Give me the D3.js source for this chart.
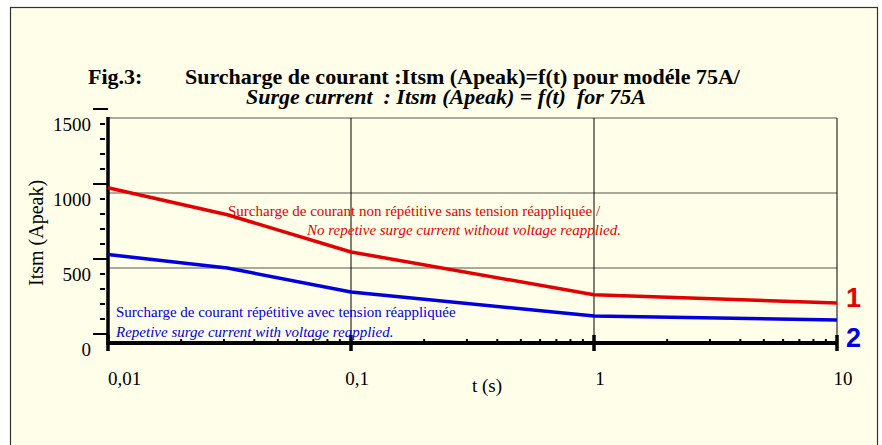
<!DOCTYPE html>
<html>
<head>
<meta charset="utf-8">
<script src="https://cdn.jsdelivr.net/npm/d3@7"></script>
<style>
  body { margin: 0; background: #fff; }
  svg { display: block; }
  text { font-family: "Liberation Serif", "Times New Roman", serif; }
</style>
</head>
<body>
<div id="content"></div>
<script>
// values
let times = [0.01, 0.031, 0.1, 1, 10];
let nonRepetitive = [1035, 855, 607, 322, 267];
let repetitive = [590, 500, 340, 180, 153];
let yTicks = [0, 500, 1000, 1500];
let xTicks = [0.01, 0.1, 1, 10];
let xTickLabels = ["0,01", "0,1", "1", "10"];

let width = 882;
let height = 445;
let svg = d3.select("#content").append("svg")
  .attr("width", width)
  .attr("height", height);

// cream panel
svg.append("rect")
  .attr("x", 10.5).attr("y", 7.5)
  .attr("width", 867).attr("height", 445)
  .style("fill", "#fffee8")
  .style("stroke", "#333")
  .style("stroke-width", 1.2);

let x = d3.scaleLog().domain([0.01, 10]).range([108, 837]);
let y = d3.scaleLinear().domain([0, 1500]).range([343, 118]);

// grid
svg.selectAll(".hgrid").data([500, 1000, 1500]).enter().append("line")
  .attr("x1", x(0.01)).attr("x2", x(10))
  .attr("y1", d => y(d)).attr("y2", d => y(d))
  .style("stroke", "#555").style("stroke-width", 1);
svg.selectAll(".vgrid").data([0.1, 1, 10]).enter().append("line")
  .attr("x1", d => x(d)).attr("x2", d => x(d))
  .attr("y1", y(1500)).attr("y2", y(0))
  .style("stroke", "#000").style("stroke-width", 1);

// y axis (ticks come out about 9px above the grid in the original)
let yMinor = d3.range(100, 1500, 100).filter(v => v % 500 != 0);
let yAxis = svg.append("g");
yAxis.selectAll(".major").data(yTicks).enter().append("line")
  .attr("x1", 93).attr("x2", 108)
  .attr("y1", d => y(d) - 9).attr("y2", d => y(d) - 9)
  .style("stroke", "#000").style("stroke-width", 2);
yAxis.selectAll(".minor").data(yMinor).enter().append("line")
  .attr("x1", 100).attr("x2", 105)
  .attr("y1", d => y(d) - 9).attr("y2", d => y(d) - 9)
  .style("stroke", "#000").style("stroke-width", 2);
yAxis.append("line")
  .attr("x1", 108).attr("x2", 108)
  .attr("y1", y(1500) - 1).attr("y2", y(0) + 2)
  .style("stroke", "#000").style("stroke-width", 3.5);
yAxis.selectAll(".lab").data(yTicks).enter().append("text")
  .attr("x", 91).attr("y", d => y(d) + 13)
  .attr("text-anchor", "end")
  .style("font-size", "19px")
  .text(d => d);

// x axis
let xMinor = [];
[0.01, 0.1, 1].forEach(function(dec) {
  for (let k = 2; k <= 9; k++) xMinor.push(dec * k);
});
let xAxis = svg.append("g");
xAxis.append("line")
  .attr("x1", x(0.01)).attr("x2", x(10))
  .attr("y1", y(0)).attr("y2", y(0))
  .style("stroke", "#000").style("stroke-width", 4);
xAxis.selectAll(".major").data(xTicks).enter().append("line")
  .attr("x1", d => x(d)).attr("x2", d => x(d))
  .attr("y1", y(0) - 8).attr("y2", y(0) + 8)
  .style("stroke", "#000").style("stroke-width", 3.5);
xAxis.selectAll(".minor").data(xMinor).enter().append("line")
  .attr("x1", d => x(d)).attr("x2", d => x(d))
  .attr("y1", y(0) - 4).attr("y2", y(0))
  .style("stroke", "#000").style("stroke-width", 2);
xAxis.selectAll(".lab").data(xTicks).enter().append("text")
  .attr("x", (d, i) => i == 0 ? x(d) : x(d) + 6).attr("y", 385)
  .attr("text-anchor", (d, i) => i == 0 ? "start" : "middle")
  .style("font-size", "19px")
  .text((d, i) => xTickLabels[i]);

svg.append("text")
  .attr("x", 487).attr("y", 392)
  .attr("text-anchor", "middle")
  .style("font-size", "19px")
  .text("t (s)");

svg.append("text")
  .attr("transform", "translate(43,233) rotate(-90)")
  .attr("text-anchor", "middle")
  .style("font-size", "20px")
  .text("Itsm (Apeak)");

// curves
let line = d3.line().x(d => x(d[0])).y(d => y(d[1]));
svg.append("path")
  .attr("d", line(d3.zip(times, nonRepetitive)))
  .style("fill", "none").style("stroke", "#e30000")
  .style("stroke-width", 3.5).style("stroke-linejoin", "round");
svg.append("path")
  .attr("d", line(d3.zip(times, repetitive)))
  .style("fill", "none").style("stroke", "#0000dd")
  .style("stroke-width", 3.5).style("stroke-linejoin", "round");

// curve numbers
svg.append("text")
  .attr("x", 846).attr("y", 307)
  .style("font-family", "Liberation Sans, Arial, sans-serif")
  .style("font-weight", "bold").style("font-size", "27px")
  .style("fill", "#e30000")
  .text("1");
svg.append("text")
  .attr("x", 846).attr("y", 347)
  .style("font-family", "Liberation Sans, Arial, sans-serif")
  .style("font-weight", "bold").style("font-size", "27px")
  .style("fill", "#0000dd")
  .text("2");

// annotations
svg.append("text")
  .attr("x", 228).attr("y", 216)
  .style("font-size", "15px").style("fill", "#e30000")
  .text("Surcharge de courant non répétitive sans tension réappliquée /");
svg.append("text")
  .attr("x", 621).attr("y", 235)
  .attr("text-anchor", "end")
  .style("font-size", "15px").style("font-style", "italic").style("fill", "#e30000")
  .text("No repetive surge current without voltage reapplied.");
svg.append("text")
  .attr("x", 116).attr("y", 317)
  .style("font-size", "15px").style("fill", "#0000dd")
  .text("Surcharge de courant répétitive avec tension réappliquée");
svg.append("text")
  .attr("x", 116).attr("y", 337)
  .style("font-size", "15px").style("font-style", "italic").style("fill", "#0000dd")
  .text("Repetive surge current with voltage reapplied.");

// title
svg.append("text")
  .attr("x", 88).attr("y", 84)
  .style("font-size", "22px").style("font-weight", "bold")
  .text("Fig.3:");
svg.append("text")
  .attr("x", 185).attr("y", 84)
  .style("font-size", "22px").style("font-weight", "bold")
  .text("Surcharge de courant :Itsm (Apeak)=f(t) pour modéle 75A/");
svg.append("text")
  .attr("x", 646).attr("y", 104)
  .attr("text-anchor", "end")
  .style("font-size", "22px").style("font-weight", "bold").style("font-style", "italic")
  .style("white-space", "pre")
  .text("Surge current  : Itsm (Apeak) = f(t)  for 75A");
</script>
</body>
</html>
